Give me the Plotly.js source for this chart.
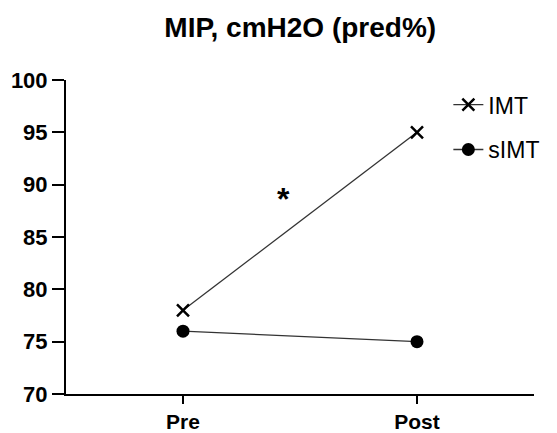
<!DOCTYPE html>
<html><head><meta charset="utf-8">
<script src="https://cdn.plot.ly/plotly-3.0.1.min.js"></script>
<style>html,body{margin:0;padding:0;background:#fff}</style>
</head><body><div id="chart" style="width:557px;height:433px"></div>
<script>
const categories = ["Pre", "Post"];
const xPos = [0, 1];
const imt = [78, 95];
const simt = [76, 75];
const yTicks = [70, 75, 80, 85, 90, 95, 100];
const sigLabel = "*";
const sigX = 0.43;
const sigY = 88.6;

const F = "Liberation Sans, Arial, Helvetica, sans-serif";
const traces = [
  {x: xPos, y: imt, name: "IMT", mode: "lines+markers", legendgroup: "a",
   line: {color: "#333", width: 1.3},
   marker: {symbol: "x-thin", size: 12, color: "#000", line: {width: 2.5, color: "#000"}}},
  {x: xPos, y: simt, name: "sIMT", mode: "lines+markers", legendgroup: "b",
   line: {color: "#333", width: 1.3},
   marker: {symbol: "circle", size: 13, color: "#000"}}
];
const layout = {
  width: 557, height: 433,
  margin: {l: 66, r: 23, t: 80, b: 39},
  paper_bgcolor: "#fff", plot_bgcolor: "#fff",
  font: {family: F, color: "#000"},
  title: {text: "<b>MIP, cmH2O (pred%)</b>", x: 0.539, xanchor: "center", y: 0.938, yanchor: "middle",
          font: {size: 28, family: F, color: "#000"}},
  xaxis: {range: [-0.5, 1.5], tickvals: xPos, ticktext: categories, showgrid: false, zeroline: false,
          showline: true, linecolor: "#000", linewidth: 2, ticks: "outside", ticklen: 8, tickwidth: 2,
          tickcolor: "#000", tickfont: {size: 21, family: F, weight: "bold", color: "#000"}},
  yaxis: {range: [70, 100], tickvals: yTicks, showgrid: false, zeroline: false,
          showline: true, linecolor: "#000", linewidth: 2, ticks: "outside", ticklen: 12, tickwidth: 2,
          tickcolor: "#000", tickfont: {size: 22, family: F, weight: "bold", color: "#000"}},
  legend: {x: 0.817, xanchor: "left", y: 0.99, yanchor: "top", tracegroupgap: 12,
           font: {size: 23, family: F, color: "#000"}, bgcolor: "rgba(0,0,0,0)"},
  annotations: [{x: sigX, y: sigY, xref: "x", yref: "y", text: "<b>" + sigLabel + "</b>", showarrow: false,
                 font: {size: 32, family: F, color: "#000"}}]
};
Plotly.newPlot("chart", traces, layout, {displayModeBar: false});
</script></body></html>
